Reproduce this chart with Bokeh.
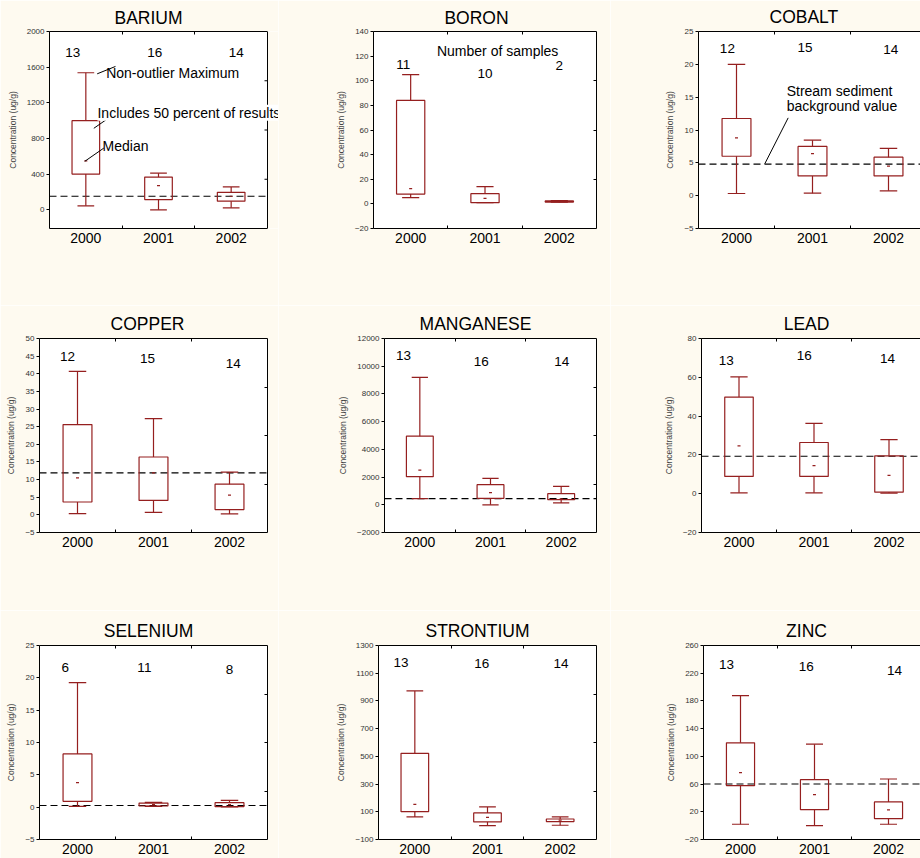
from bokeh.core.properties import value
from bokeh.embed import file_html
from bokeh.layouts import column, row
from bokeh.models import (BoxAnnotation, ColumnDataSource, FixedTicker, Label,
                          LinearAxis, Range1d)
from bokeh.plotting import figure
from bokeh.resources import INLINE

# ---------------------------------------------------------------- data
YEARS = ["2000", "2001", "2002"]
ELEMENTS = ["BARIUM", "BORON", "COBALT",
            "COPPER", "MANGANESE", "LEAD",
            "SELENIUM", "STRONTIUM", "ZINC"]

# non-outlier minimum
WHISKER_LOW = {
    "BARIUM": [44, 0, 22],
    "BORON": [5.0, 1.0, 1.3],
    "COBALT": [0.33, 0.38, 0.74],
    "COPPER": [0.36, 0.73, 0.26],
    "MANGANESE": [444, 0, 132],
    "LEAD": [0.45, 0.45, 0.3],
    "SELENIUM": [0.13, 0.13, 0.03],
    "STRONTIUM": [63, 0, 3],
    "ZINC": [2.0, 0.0, 2.0],
}
# 25th percentile
Q1 = {
    "BARIUM": [400, 115, 96],
    "BORON": [8.0, 1.0, 1.5],
    "COBALT": [6.0, 3.0, 3.0],
    "COPPER": [3.65, 4.1, 1.5],
    "MANGANESE": [2026, 468, 372],
    "LEAD": [8.9, 8.9, 0.8],
    "SELENIUM": [0.9, 0.18, 0.08],
    "STRONTIUM": [101, 27, 29],
    "ZINC": [57.7, 23.1, 10.2],
}
MEDIAN = {
    "BARIUM": [548, 270, 152],
    "BORON": [12.4, 4.5, 2.0],
    "COBALT": [8.8, 6.4, 4.5],
    "COPPER": [10.5, 11.9, 5.6],
    "MANGANESE": [2506, 876, 420],
    "LEAD": [24.7, 14.5, 9.4],
    "SELENIUM": [3.8, 0.38, 0.38],
    "STRONTIUM": [154, 60, 40],
    "ZINC": [76.4, 44.7, 22.7],
}
# 75th percentile
Q3 = {
    "BARIUM": [1000, 367, 196],
    "BORON": [84.0, 8.3, 2.4],
    "COBALT": [11.75, 7.5, 5.86],
    "COPPER": [25.6, 16.4, 8.7],
    "MANGANESE": [4951, 1451, 804],
    "LEAD": [49.8, 26.4, 19.5],
    "SELENIUM": [8.23, 0.64, 0.69],
    "STRONTIUM": [522, 92, 48],
    "ZINC": [119.5, 66.3, 34.2],
}
# non-outlier maximum
WHISKER_HIGH = {
    "BARIUM": [1537, 411, 256],
    "BORON": [105.0, 14.0, 2.6],
    "COBALT": [20.0, 8.45, 7.2],
    "COPPER": [40.7, 27.3, 12.1],
    "MANGANESE": [9195, 1906, 1331],
    "LEAD": [60.2, 36.2, 27.9],
    "SELENIUM": [19.26, 0.74, 1.05],
    "STRONTIUM": [972, 135, 63],
    "ZINC": [187.6, 117.6, 67.3],
}
SAMPLES = {
    "BARIUM": [13, 16, 14],
    "BORON": [11, 10, 2],
    "COBALT": [12, 15, 14],
    "COPPER": [12, 15, 14],
    "MANGANESE": [13, 16, 14],
    "LEAD": [13, 16, 14],
    "SELENIUM": [6, 11, 8],
    "STRONTIUM": [13, 16, 14],
    "ZINC": [13, 16, 14],
}
# stream sediment background value (ug/g)
BACKGROUND = {
    "BARIUM": 152, "COBALT": 4.8, "COPPER": 11.9, "MANGANESE": 444,
    "LEAD": 19.3, "SELENIUM": 0.25, "ZINC": 60,
}
Y_RANGE = {
    "BARIUM": (-210, 2000), "BORON": (-20, 140), "COBALT": (-5, 25),
    "COPPER": (-5, 50), "MANGANESE": (-2000, 12000), "LEAD": (-20, 80),
    "SELENIUM": (-5, 25), "STRONTIUM": (-100, 1300), "ZINC": (-20, 260),
}
Y_TICKS = {
    "BARIUM": [0, 400, 800, 1200, 1600, 2000],
    "BORON": [-20, 0, 20, 40, 60, 80, 100, 120, 140],
    "COBALT": [-5, 0, 5, 10, 15, 20, 25],
    "COPPER": [-5, 0, 5, 10, 15, 20, 25, 30, 35, 40, 45, 50],
    "MANGANESE": [-2000, 0, 2000, 4000, 6000, 8000, 10000, 12000],
    "LEAD": [-20, 0, 20, 40, 60, 80],
    "SELENIUM": [-5, 0, 5, 10, 15, 20, 25],
    "STRONTIUM": [-100, 100, 300, 500, 700, 900, 1100, 1300],
    "ZINC": [-20, 20, 60, 100, 140, 180, 220, 260],
}

# ---------------------------------------------------------------- layout
PAGE_BG = "#FEFAF0"
BOX_RED = "#951F1F"
FONT = "Liberation Sans"
COL_W = [278, 332, 310]
ROW_H = [305, 305, 248]

# frame edges on the page: left, right, top, bottom
FRAME = {
    "BARIUM": (49, 267, 30, 228),
    "BORON": (373, 596, 30, 228),
    "COBALT": (698, 926, 31, 228),
    "COPPER": (39, 267, 337, 532),
    "MANGANESE": (384, 596, 338, 532),
    "LEAD": (701, 926, 338, 532),
    "SELENIUM": (39, 267, 644, 839),
    "STRONTIUM": (378, 596, 644, 839),
    "ZINC": (703, 925, 645, 839),
}
# panels whose drawing area runs on to the edge of their column
OPEN_RIGHT = {"BARIUM"}
TITLE_X = {"BARIUM": 148, "BORON": 476, "COBALT": 804, "COPPER": 147,
           "MANGANESE": 475, "LEAD": 806, "SELENIUM": 148,
           "STRONTIUM": 477, "ZINC": 806}
TITLE_SIZE = 17.5
# Arial advance widths (em) of the capitals used in the titles
CAP_W = {"A": .667, "B": .667, "C": .722, "D": .722, "E": .667, "G": .778,
         "I": .278, "L": .556, "M": .833, "N": .722, "O": .778, "P": .667,
         "R": .722, "S": .667, "T": .611, "U": .722, "Z": .611}

# where the sample counts sit: shift from the year centre, and height
COUNT_DX = {
    "BARIUM": [-0.18, -0.05, 0.07], "BORON": [-0.1, 0.0, 0.0],
    "COBALT": [-0.12, -0.1, 0.03], "COPPER": [-0.13, -0.08, 0.05],
    "MANGANESE": [-0.23, -0.13, 0.01], "LEAD": [-0.17, -0.13, -0.02],
    "SELENIUM": [-0.16, -0.12, 0.0], "STRONTIUM": [-0.19, -0.08, 0.01],
    "ZINC": [-0.19, -0.11, 0.08],
}
COUNT_Y = {
    "BARIUM": [1767, 1760, 1760], "BORON": [113.6, 106, 112.5],
    "COBALT": [22.4, 22.6, 22.2], "COPPER": [45.0, 44.4, 43.0],
    "MANGANESE": [10750, 10350, 10350], "LEAD": [68.5, 71.1, 69.7],
    "SELENIUM": [21.6, 21.6, 21.3], "STRONTIUM": [1176, 1168, 1168],
    "ZINC": [232, 229, 224.5],
}

BOX_HALF = 0.19
CAP_HALF = 0.115
TICK_PX = 3


def leader(p, x0, y0, x1, y1):
    p.segment(x0=[x0], y0=[y0], x1=[x1], y1=[y1], line_color="black", line_width=1)


def note(p, x, y, text, **kw):
    p.add_layout(Label(x=x, y=y, text=text, text_font=FONT, text_font_size="14px",
                       text_color="black", text_align="left", text_baseline="middle", **kw))


def make_panel(idx, name):
    r, c = divmod(idx, 3)
    x0, x1 = sum(COL_W[:c]), sum(COL_W[:c + 1])
    y0, y1 = sum(ROW_H[:r]), sum(ROW_H[:r + 1])
    left, right, top, bottom = FRAME[name]
    area_right = x1 if (name in OPEN_RIGHT or right > x1) else right
    px_per_cat = (right - left) / 3.0
    x_end = (area_right - left) / px_per_cat
    lo, hi = Y_RANGE[name]
    quarters = [lo + (hi - lo) * f for f in (0.25, 0.5, 0.75)]

    title_w = TITLE_SIZE * sum(CAP_W[ch] for ch in name)
    p = figure(width=x1 - x0, height=y1 - y0, title=name,
               x_range=Range1d(0, x_end), y_range=Range1d(lo, hi),
               min_border_left=left - x0, min_border_right=x1 - area_right,
               min_border_top=top - y0, min_border_bottom=y1 - bottom,
               x_axis_location=None, y_axis_location=None,
               output_backend="svg", toolbar_location=None)
    p.outline_line_color = None
    p.background_fill_color = "white"
    p.border_fill_color = PAGE_BG
    p.xgrid.grid_line_color = None
    p.ygrid.grid_line_color = None

    p.title.align = "left"
    p.title.offset = TITLE_X[name] - left - title_w / 2
    p.title.text_font = FONT
    p.title.text_font_size = f"{TITLE_SIZE}px"
    p.title.text_font_style = "normal"
    p.title.text_color = "black"
    p.title.standoff = min(10, top - y0 - 22)

    # left value axis
    yax = LinearAxis(ticker=FixedTicker(ticks=Y_TICKS[name], minor_ticks=[]))
    yax.major_tick_out = TICK_PX
    yax.major_tick_in = 0
    yax.major_label_standoff = 2
    yax.major_label_text_font = FONT
    yax.major_label_text_font_size = "8px"
    yax.major_label_text_color = "#333333"
    yax.axis_line_color = "black"
    yax.major_tick_line_color = "black"
    yax.axis_label = "Concentration (ug/g)"
    yax.axis_label_text_font = FONT
    yax.axis_label_text_font_size = "8.5px"
    yax.axis_label_text_font_style = "normal"
    yax.axis_label_text_color = "#444444"
    yax.axis_label_standoff = 6
    p.add_layout(yax, "left")

    # bottom year axis, with short inner ticks between the years
    centers = [i + 0.5 for i in range(len(YEARS))]
    xax = LinearAxis(ticker=FixedTicker(ticks=centers, minor_ticks=[1, 2]), bounds=(0, 3))
    xax.major_label_overrides = {cx: yr for cx, yr in zip(centers, YEARS)}
    xax.major_tick_in = 0
    xax.major_tick_out = 0
    xax.minor_tick_in = TICK_PX
    xax.minor_tick_out = 0
    xax.major_label_standoff = 4
    xax.major_label_text_font = FONT
    xax.major_label_text_font_size = "14px"
    xax.major_label_text_color = "black"
    xax.axis_line_color = "black"
    p.add_layout(xax, "below")

    # top edge of the frame (takes no room of its own)
    tax = LinearAxis(ticker=FixedTicker(ticks=[], minor_ticks=[1, 2]), bounds=(0, 3))
    tax.major_tick_out = 0
    tax.major_tick_in = 0
    tax.major_label_standoff = 0
    tax.minor_tick_in = TICK_PX
    tax.minor_tick_out = 0
    tax.axis_line_color = "black"
    p.add_layout(tax, "above")

    # right edge of the frame
    if area_right == right:
        rax = LinearAxis(ticker=FixedTicker(ticks=[], minor_ticks=quarters))
        rax.major_tick_out = 0
        rax.major_label_standoff = 0
        rax.minor_tick_in = TICK_PX
        rax.minor_tick_out = 0
        rax.axis_line_color = "black"
        rax.minor_tick_line_color = "black"
        p.add_layout(rax, "right")
    elif right < x1:
        # drawing area continues past the frame: page colour beyond it
        p.add_layout(BoxAnnotation(left=3, fill_color=PAGE_BG, fill_alpha=1,
                                   line_alpha=0, level="underlay"))
        p.segment(x0=[3], y0=[lo], x1=[3], y1=[hi], line_color="black", line_width=1)
        tick = TICK_PX / px_per_cat
        p.segment(x0=[3 - tick] * 3, y0=quarters, x1=[3] * 3, y1=quarters,
                  line_color="black", line_width=1)

    if name in BACKGROUND:
        bg = BACKGROUND[name]
        p.segment(x0=[0], y0=[bg], x1=[min(3, x_end)], y1=[bg],
                  line_color="black", line_dash="7 4", line_width=1.1)

    src = ColumnDataSource(dict(
        x=centers,
        xl=[cx - BOX_HALF for cx in centers],
        xr=[cx + BOX_HALF for cx in centers],
        cl=[cx - CAP_HALF for cx in centers],
        cr=[cx + CAP_HALF for cx in centers],
        low=WHISKER_LOW[name], q1=Q1[name], med=MEDIAN[name],
        q3=Q3[name], high=WHISKER_HIGH[name],
    ))
    p.segment(x0="x", y0="q3", x1="x", y1="high", source=src, line_color=BOX_RED, line_width=1.2)
    p.segment(x0="x", y0="q1", x1="x", y1="low", source=src, line_color=BOX_RED, line_width=1.2)
    p.segment(x0="cl", y0="high", x1="cr", y1="high", source=src, line_color=BOX_RED, line_width=1.2)
    p.segment(x0="cl", y0="low", x1="cr", y1="low", source=src, line_color=BOX_RED, line_width=1.2)
    p.quad(left="xl", right="xr", bottom="q1", top="q3", source=src,
           fill_color=None, line_color=BOX_RED, line_width=1.2)
    p.scatter(x="x", y="med", source=src, marker="dash", size=3,
              line_color=BOX_RED, line_width=1.2)

    # sample counts
    csrc = ColumnDataSource(dict(
        x=[cx + d for cx, d in zip(centers, COUNT_DX[name])],
        y=COUNT_Y[name],
        t=[str(n) for n in SAMPLES[name]],
    ))
    p.text(x="x", y="y", text="t", source=csrc, text_font=value(FONT),
           text_font_size="13.5px", text_color="black",
           text_align="center", text_baseline="middle")
    return p


panels = {name: make_panel(i, name) for i, name in enumerate(ELEMENTS)}

# explanatory notes
ba = panels["BARIUM"]
leader(ba, 0.656, 1525, 0.908, 1608)
note(ba, 0.78, 1530, "Non-outlier Maximum")
leader(ba, 0.61, 914, 0.84, 1044)
note(ba, 0.66, 1089, "Includes 50 percent of results",
     background_fill_color="white")
leader(ba, 0.486, 544, 0.747, 692)
note(ba, 0.73, 711, "Median")

bo = panels["BORON"]
bo.add_layout(Label(x=1.67, y=123.8, text="Number of samples", text_font=FONT,
                    text_font_size="14px", text_color="black",
                    text_align="center", text_baseline="middle"))

co = panels["COBALT"]
leader(co, 0.872, 4.85, 1.18, 11.85)
note(co, 1.16, 16.0, "Stream sediment")
note(co, 1.16, 13.6, "background value")

layout = column(
    row(*[panels[n] for n in ELEMENTS[0:3]]),
    row(*[panels[n] for n in ELEMENTS[3:6]]),
    row(*[panels[n] for n in ELEMENTS[6:9]]),
)

with open("out.html", "w") as f:
    f.write(file_html(layout, INLINE))
